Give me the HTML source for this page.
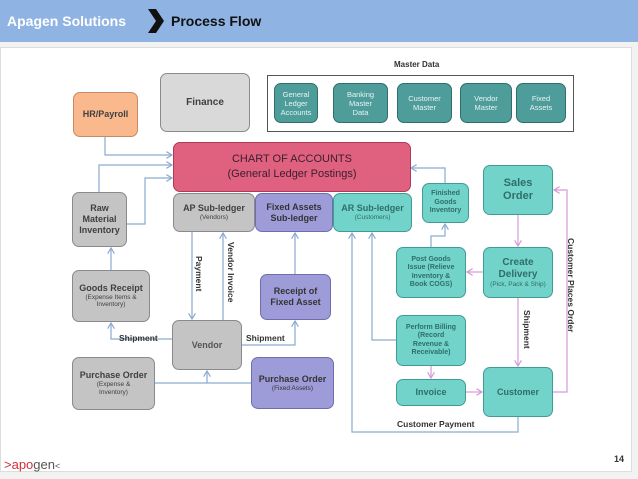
<!DOCTYPE html>
<html><head><meta charset="utf-8"><style>
*{margin:0;padding:0;box-sizing:border-box}
body{width:638px;height:479px;position:relative;background:#f2f2f2;font-family:"Liberation Sans",sans-serif;overflow:hidden}
.hdr{position:absolute;left:0;top:0;width:638px;height:42px;background:#8fb4e3}
.panel{position:absolute;left:0;top:47px;width:632px;height:425px;background:#fff;border:1px solid #ddd}
.b{position:absolute;border-radius:7px;display:flex;align-items:center;justify-content:center;text-align:center;font-weight:bold;font-size:9px;line-height:1.2;color:#404040;border:1.5px solid #7f7f7f;white-space:nowrap}
.g{background:#c4c4c4;border-color:#8a8a8a}
.p{background:#9e9cd8;border-color:#6f6db0;color:#333}
.t{background:#72d3ca;border-color:#3f9c95;color:#2f6e6a}
.m{background:#4e9d9a;border-color:#2f6e6a;color:#e8f4f4;font-size:7.5px;font-weight:normal}
small{font-size:6.5px;font-weight:normal;display:block}
.lbl{position:absolute;font-size:9px;font-weight:bold;color:#333}
.v{position:absolute;font-size:8.5px;font-weight:bold;color:#333;writing-mode:vertical-rl}
</style></head><body>
<div class="hdr"></div>
<div style="position:absolute;left:7px;top:13px;color:#fff;font-weight:bold;font-size:14px">Apagen Solutions</div>
<svg style="position:absolute;left:148px;top:9px" width="16" height="24"><polygon points="0,0 8,0 16,12 8,24 0,24 8,12" fill="#111"/></svg>
<div style="position:absolute;left:171px;top:13px;color:#111;font-weight:bold;font-size:14px">Process Flow</div>
<div class="panel"></div>
<div class="lbl" style="left:394px;top:60px;font-size:8px">Master Data</div>
<div style="position:absolute;left:267px;top:75px;width:307px;height:57px;border:1px solid #555;background:#fff"></div>
<svg style="position:absolute;left:0;top:0" width="638" height="479">
<defs><marker id="a" markerWidth="6" markerHeight="6" refX="5" refY="3" orient="auto"><path d="M0,0 L5,3 L0,6" fill="none" stroke="#8aaad0" stroke-width="1"/></marker>
<marker id="q" markerWidth="6" markerHeight="6" refX="5" refY="3" orient="auto"><path d="M0,0 L5,3 L0,6" fill="none" stroke="#d898d8" stroke-width="1"/></marker></defs>
<g fill="none" stroke="#8aaad0" stroke-width="1.2">
<path d="M105,137 V155 H172" marker-end="url(#a)"/>
<path d="M99,192 V165 H172" marker-end="url(#a)"/>
<path d="M127,224 H145 V178 H172" marker-end="url(#a)"/>
<path d="M111,270 V248" marker-end="url(#a)"/>
<path d="M172,339 H111 V323" marker-end="url(#a)"/>
<path d="M192,232 V319" marker-end="url(#a)"/>
<path d="M223,320 V233" marker-end="url(#a)"/>
<path d="M242,345 H295 V321" marker-end="url(#a)"/>
<path d="M295,274 V233" marker-end="url(#a)"/>
<path d="M155,383 H251"/>
<path d="M207,383 V371" marker-end="url(#a)"/>
<path d="M518,417 V432 H352 V233" marker-end="url(#a)"/>
<path d="M396,340 H372 V233" marker-end="url(#a)"/>
<path d="M431,247 V236 H445 V224" marker-end="url(#a)"/>
<path d="M445,183 V168 H411" marker-end="url(#a)"/>
</g>
<g fill="none" stroke="#d898d8" stroke-width="1.2">
<path d="M518,215 V246" marker-end="url(#q)"/>
<path d="M483,272 H467" marker-end="url(#q)"/>
<path d="M518,298 V366" marker-end="url(#q)"/>
<path d="M431,366 V378" marker-end="url(#q)"/>
<path d="M466,392 H482" marker-end="url(#q)"/>
<path d="M553,392 H567 V190 H554" marker-end="url(#q)"/>
</g>
</svg>
<div class="b" style="left:73px;top:92px;width:65px;height:45px;background:#f9b98c;border-color:#c88a60"><div>HR/Payroll</div></div>
<div class="b g" style="left:160px;top:73px;width:90px;height:59px;background:#d9d9d9;font-size:10px"><div>Finance</div></div>
<div class="b m" style="left:274px;top:83px;width:44px;height:40px"><div>General<br>Ledger<br>Accounts</div></div>
<div class="b m" style="left:333px;top:83px;width:55px;height:40px"><div>Banking<br>Master<br>Data</div></div>
<div class="b m" style="left:397px;top:83px;width:55px;height:40px"><div>Customer<br>Master</div></div>
<div class="b m" style="left:460px;top:83px;width:52px;height:40px"><div>Vendor<br>Master</div></div>
<div class="b m" style="left:516px;top:83px;width:50px;height:40px"><div>Fixed<br>Assets</div></div>
<div class="b" style="left:173px;top:142px;width:238px;height:50px;background:#e0607f;border-color:#b03858;color:#3a2030;font-weight:normal;font-size:11px;line-height:1.4"><div>CHART OF ACCOUNTS<br>(General Ledger Postings)</div></div>
<div class="b g" style="left:173px;top:193px;width:82px;height:39px"><div>AP Sub-ledger<small>(Vendors)</small></div></div>
<div class="b p" style="left:255px;top:193px;width:78px;height:39px"><div>Fixed Assets<br>Sub-ledger</div></div>
<div class="b t" style="left:333px;top:193px;width:79px;height:39px"><div>AR Sub-ledger<small>(Customers)</small></div></div>
<div class="b g" style="left:72px;top:192px;width:55px;height:55px"><div>Raw<br>Material<br>Inventory</div></div>
<div class="b t" style="left:422px;top:183px;width:47px;height:40px;font-size:7px"><div>Finished<br>Goods<br>Inventory</div></div>
<div class="b t" style="left:483px;top:165px;width:70px;height:50px;font-size:11px"><div>Sales<br>Order</div></div>
<div class="b t" style="left:396px;top:247px;width:70px;height:51px;font-size:7px"><div>Post Goods<br>Issue (Relieve<br>Inventory &amp;<br>Book COGS)</div></div>
<div class="b t" style="left:483px;top:247px;width:70px;height:51px;font-size:10px"><div>Create<br>Delivery<small>(Pick, Pack &amp; Ship)</small></div></div>
<div class="b g" style="left:72px;top:270px;width:78px;height:52px"><div>Goods Receipt<small>(Expense Items &amp;<br>Inventory)</small></div></div>
<div class="b p" style="left:260px;top:274px;width:71px;height:46px"><div>Receipt of<br>Fixed Asset</div></div>
<div class="b g" style="left:172px;top:320px;width:70px;height:50px;color:#555"><div>Vendor</div></div>
<div class="b g" style="left:72px;top:357px;width:83px;height:53px"><div>Purchase Order<small>(Expense &amp;<br>Inventory)</small></div></div>
<div class="b p" style="left:251px;top:357px;width:83px;height:52px"><div>Purchase Order<small>(Fixed Assets)</small></div></div>
<div class="b t" style="left:396px;top:315px;width:70px;height:51px;font-size:7px"><div>Perform Billing<br>(Record<br>Revenue &amp;<br>Receivable)</div></div>
<div class="b t" style="left:396px;top:379px;width:70px;height:27px"><div>Invoice</div></div>
<div class="b t" style="left:483px;top:367px;width:70px;height:50px"><div>Customer</div></div>
<div class="lbl" style="left:119px;top:333px;font-size:8.5px">Shipment</div>
<div class="lbl" style="left:246px;top:333px;font-size:8.5px">Shipment</div>
<div class="lbl" style="left:397px;top:419px;font-size:8.5px">Customer Payment</div>
<div class="v" style="left:194px;top:256px">Payment</div>
<div class="v" style="left:226px;top:242px">Vendor Invoice</div>
<div class="v" style="left:522px;top:310px">Shipment</div>
<div class="v" style="left:566px;top:238px">Customer Places Order</div>
<div class="lbl" style="left:614px;top:454px;font-size:9px">14</div>
<div style="position:absolute;left:4px;top:457px;font-size:13px;color:#555"><span style="color:#d0303a">&gt;apo</span>gen<span style="font-size:9px">&lt;</span></div>
</body></html>
